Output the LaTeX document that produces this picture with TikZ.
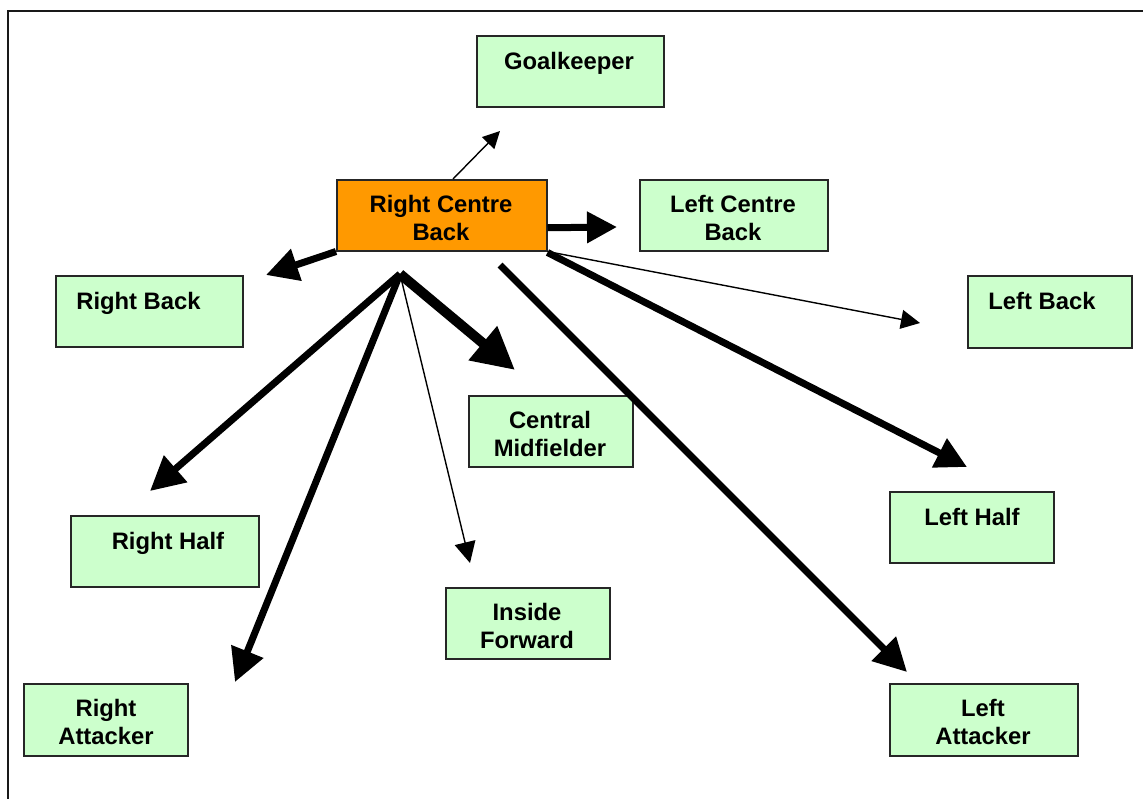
\documentclass[tikz,border=0pt]{standalone}
\usepackage{fontspec}
\setmainfont{Liberation Sans}
\usetikzlibrary{arrows.meta,calc}
\definecolor{boxgreen}{HTML}{CCFFCC}
\definecolor{rcborange}{HTML}{FF9900}
\newcommand\twol[2]{\begin{tabular}[t]{@{}c@{}}#1\\#2\end{tabular}}
\begin{document}
\begin{tikzpicture}[x=1pt,y=-1pt,
  box/.style={draw=black!85, line width=1.5pt, fill=boxgreen, inner sep=0pt, anchor=north west},
  lbl/.style={font=\fontsize{23.8}{28}\selectfont\bfseries, inner sep=0pt, anchor=base},
  arrfine/.style={line width=1.4pt, -{Triangle[length=#1,width=#1]}},
  arrheavy/.style={line width=7pt, -{Triangle[length=#1,width=#1]}},
  arrheavier/.style={line width=10pt, -{Triangle[length=#1,width=#1]}}
]
\useasboundingbox (0,0) rectangle (1143,798);
\fill[white] (0,0) rectangle (1143,798);
\draw[line width=1.5pt, black!90] (8,11) rectangle (1170,820);

% boxes
\node[box, minimum width=187pt, minimum height=71pt] (gk) at (476,35) {};
\node[box, fill=rcborange, minimum width=210pt, minimum height=71pt] (rcb) at (336,179) {};
\node[box, minimum width=188pt, minimum height=71pt] (lcb) at (639,179) {};
\node[box, minimum width=187pt, minimum height=71pt] (rb) at (55,275) {};
\node[box, minimum width=164pt, minimum height=72pt] (lb) at (967,275) {};
\node[box, minimum width=164pt, minimum height=71pt] (cm) at (468,395) {};
\node[box, minimum width=188pt, minimum height=71pt] (rh) at (70,515) {};
\node[box, minimum width=164pt, minimum height=71pt] (lh) at (889,491) {};
\node[box, minimum width=164pt, minimum height=71pt] (inf) at (445,587) {};
\node[box, minimum width=164pt, minimum height=72pt] (ra) at (23,683) {};
\node[box, minimum width=188pt, minimum height=72pt] (la) at (889,683) {};

% labels
\node[lbl] (tgk) at (569,69) {Goalkeeper};
\node[lbl] (trcb) at (441,212) {\twol{Right Centre}{Back}};
\node[lbl] (tlcb) at (733,212) {\twol{Left Centre}{Back}};
\node[lbl] (trb) at (138.5,309) {Right Back};
\node[lbl] (tlb) at (1042,309) {Left Back};
\node[lbl] (tcm) at (550,428) {\twol{Central}{Midfielder}};
\node[lbl] (trh) at (168,549) {Right Half};
\node[lbl] (tlh) at (972,525) {Left Half};
\node[lbl] (tinf) at (527,620) {\twol{Inside}{Forward}};
\node[lbl] (tra) at (106,716) {\twol{Right}{Attacker}};
\node[lbl] (tla) at (983,716) {\twol{Left}{Attacker}};

% arrow end points
\coordinate (fan) at (400,274);
\coordinate (sla) at (500,265);
\coordinate (pgk) at (500,131);
\coordinate (plcb) at (617,227);
\coordinate (prb) at (266,275);
\coordinate (plb) at (920,323);
\coordinate (plh) at (967,467);
\coordinate (pla) at (907,672);
\coordinate (pcm) at (515,370);
\coordinate (prh) at (150,491);
\coordinate (pra) at (235,682);
\coordinate (pinf) at (470,563);

% arrows
\draw[arrfine=17pt] ($(rcb.north west)+(117,0)$) -- (pgk);
\draw[arrheavy=30pt] ($(rcb.east)+(0,12.5)$) -- (plcb);
\draw[arrheavy=32pt] (rcb.south west) -- (prb);
\draw[arrfine=19pt] (rcb.south east) -- (plb);
\draw[arrheavy=31pt] ($(rcb.south east)+(0,1)$) -- (plh);
\draw[arrheavy=33pt] (sla) -- (pla);
\draw[arrheavier=42pt] (fan) -- (pcm);
\draw[arrheavy=34pt] (fan) -- (prh);
\draw[arrheavy=33pt] (fan) -- (pra);
\draw[arrfine=21pt] (fan) -- (pinf);
\end{tikzpicture}
\end{document}
